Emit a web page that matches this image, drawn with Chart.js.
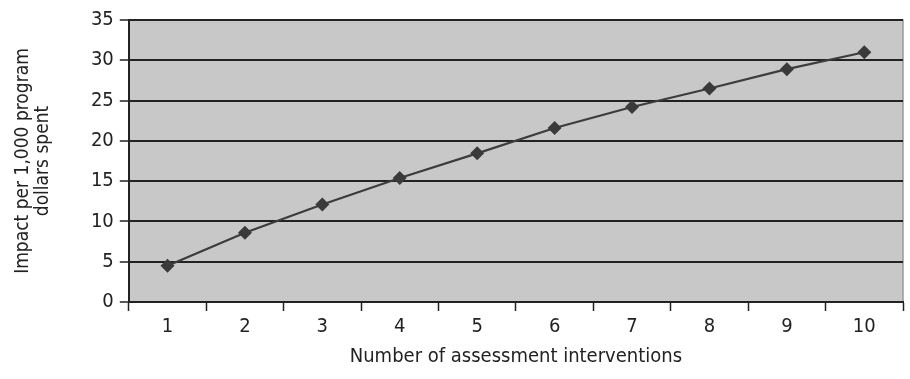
<!DOCTYPE html>
<html>
<head>
<meta charset="utf-8">
<script src="https://cdn.jsdelivr.net/npm/chart.js@4"></script>
<style>
    html, body { margin: 0; padding: 0; background: #fff; }
    #wrap { width: 910px; height: 379px; }
</style>
</head>
<body>
<div id="wrap"><canvas id="impactChart" width="910" height="379"></canvas></div>
<script>
// Chart data
const interventions = ['1', '2', '3', '4', '5', '6', '7', '8', '9', '10'];
const impactValues = [4.5, 8.6, 12.1, 15.4, 18.45, 21.6, 24.2, 26.5, 28.9, 31.0];
const yTicks = [0, 5, 10, 15, 20, 25, 30, 35];

const FONT = "'Liberation Sans Narrow', 'DejaVu Sans Condensed', 'Roboto Condensed', sans-serif";

// Gray plot background with light border on top and right
const plotBackground = {
    id: 'plotBackground',
    beforeDraw(chart) {
        const { ctx, chartArea: a } = chart;
        ctx.save();
        ctx.fillStyle = '#c8c8c8';
        ctx.fillRect(a.left, a.top, a.right - a.left, a.bottom - a.top);
        ctx.strokeStyle = '#999999';
        ctx.lineWidth = 1.5;
        ctx.beginPath();
        ctx.moveTo(a.left, a.top);
        ctx.lineTo(a.right, a.top);
        ctx.lineTo(a.right, a.bottom);
        ctx.stroke();
        ctx.restore();
    }
};

new Chart(document.getElementById('impactChart').getContext('2d'), {
    type: 'line',
    data: {
        labels: interventions,
        datasets: [{
            data: impactValues,
            borderColor: '#3c3c3c',
            borderWidth: 2.2,
            pointStyle: 'rectRot',
            pointRadius: 7,
            pointHoverRadius: 7,
            pointBackgroundColor: '#3a3a3a',
            pointBorderColor: '#3a3a3a',
            pointBorderWidth: 0,
            tension: 0,
            fill: false
        }]
    },
    options: {
        responsive: false,
        animation: false,
        layout: { padding: { top: 20, right: 2, bottom: 10, left: 13 } },
        plugins: {
            legend: { display: false },
            tooltip: { enabled: false }
        },
        scales: {
            x: {
                offset: true,
                grid: {
                    offset: true,
                    drawOnChartArea: false,
                    drawTicks: true,
                    tickLength: 9,
                    tickWidth: 1.5,
                    tickColor: '#222'
                },
                border: { color: '#222', width: 2 },
                ticks: { color: '#222', font: { family: FONT, size: 20 }, padding: 4 },
                title: {
                    display: true,
                    text: 'Number of assessment interventions',
                    color: '#222',
                    font: { family: FONT, size: 20 },
                    padding: { top: 2, bottom: 0 }
                }
            },
            y: {
                min: 0,
                max: 35,
                afterBuildTicks(axis) {
                    axis.ticks = yTicks.map(v => ({ value: v }));
                },
                grid: {
                    color: '#222',
                    lineWidth: 2,
                    drawTicks: true,
                    tickLength: 9,
                    tickColor: '#222',
                    tickWidth: 1.5
                },
                border: { color: '#222', width: 2 },
                ticks: { color: '#222', font: { family: FONT, size: 20 }, padding: 6 },
                title: {
                    display: true,
                    text: ['Impact per 1,000 program', 'dollars spent'],
                    color: '#222',
                    font: { family: FONT, size: 19, lineHeight: 1.05 },
                    padding: { top: 0, bottom: 32 }
                }
            }
        }
    },
    plugins: [plotBackground]
});
</script>
</body>
</html>
